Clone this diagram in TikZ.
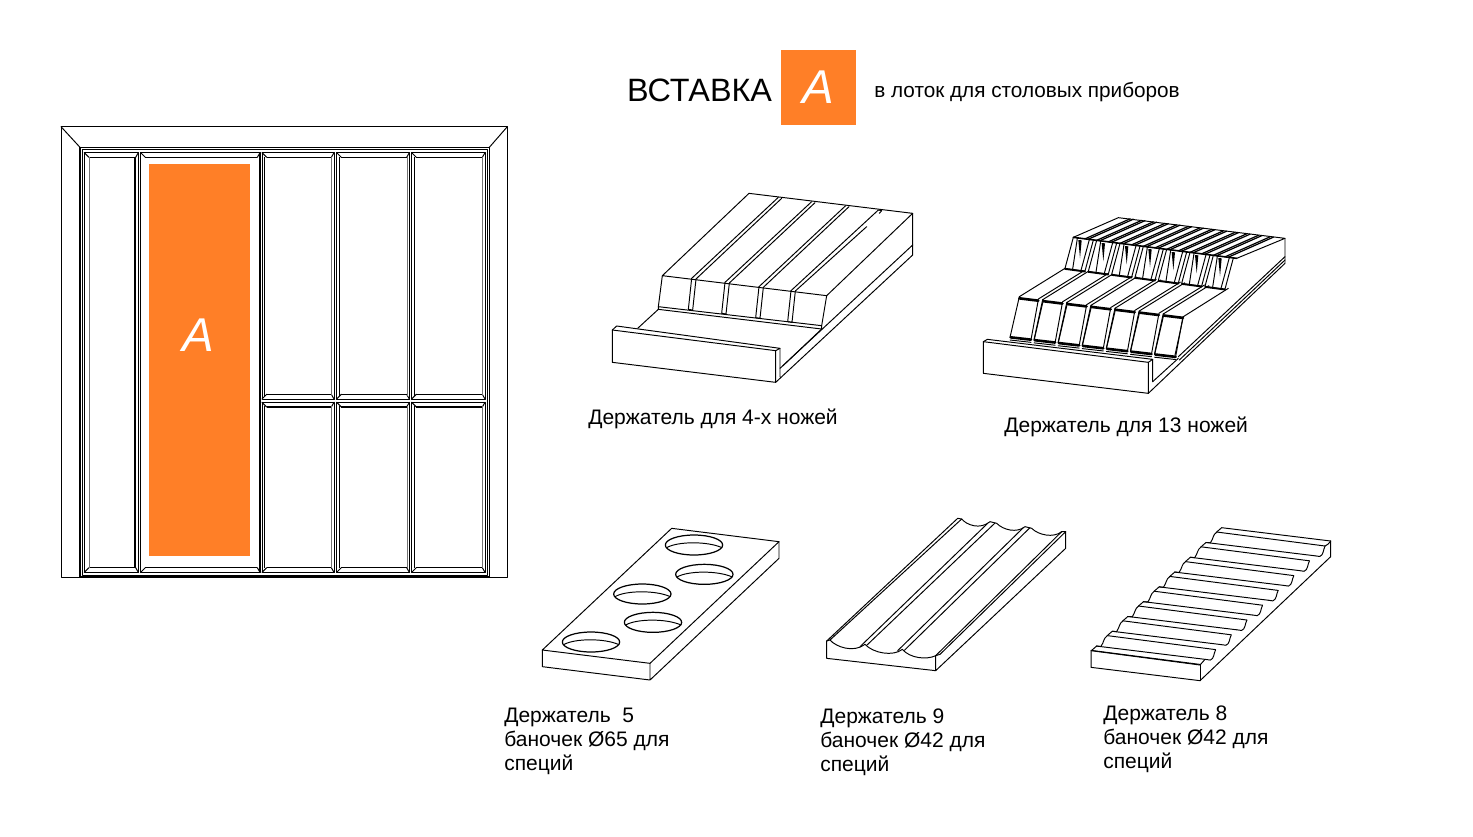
\documentclass[tikz,border=0pt]{standalone}
\usepackage{fontspec}
\setmainfont{Liberation Sans}
\definecolor{insertorange}{RGB}{255,127,39}
\tikzset{
	part/.style={line width=.55pt, line join=round, line cap=round, black},
	heavy/.style={line width=.9pt, black},
	faint/.style={line width=.45pt, black!55},
	caption/.style={inner sep=0pt, anchor=north west, align=left, font=\fontsize{11.95pt}{13.4pt}\selectfont},
}
\newcommand{\tile}[4]{
	\draw[part] (#1,#2) rectangle (#3,#4);
	\draw[heavy] (#1+14,#2+14) -- (#3-8,#2+14);
	\draw[heavy] (#1+14,#4-14) -- (#3-8,#4-14);
	\draw[part] (#1,#2) -- (#1+14,#2+14) (#3,#2) -- (#3-8,#2+14);
	\draw[part] (#1,#4) -- (#1+14,#4-14) (#3,#4) -- (#3-8,#4-14);
}
\begin{document}
\begin{tikzpicture}[x=.02cm, y=-.02cm]
	\useasboundingbox (0,0) rectangle (1473,836);
	% tray
	\begin{scope}[shift={(50,115)}, scale=1/3]
		\draw[part] (33,35) rectangle (1372,1388);
		\draw[heavy] (90,97) rectangle (1318,1385);
		\draw[part] (97,103) rectangle (1312,1380);
		\draw[part] (33,35) -- (90,97) (1372,35) -- (1318,97);
		\tile{103}{113}{265}{1372}
		\tile{272}{113}{630}{1372}
		\foreach \xa/\xb in {636/852,860/1078,1085/1305}
		{
			\tile{\xa}{113}{\xb}{852}
			\tile{\xa}{862}{\xb}{1372}
			\draw[heavy] (\xa+8,127) -- (\xa+8,842) (\xa+8,873) -- (\xa+8,1358);
			\draw[faint] (\xb-7,127) -- (\xb-7,842) (\xb-7,873) -- (\xb-7,1358);
		}
		\draw[heavy] (255,127) -- (255,1358) (630,113) -- (630,1372);
		\draw[faint] (118,127) -- (118,1358);
		\fill[insertorange] (297,147) rectangle (600,1322);
		\node[text=white, inner sep=0pt, font=\fontsize{27pt}{27pt}\selectfont\itshape] (traylabel) at (446,662) {A};
	\end{scope}
	% title
	\node[inner sep=0pt, font=\fontsize{18.4pt}{18pt}\selectfont] (title) at (699.5,90) {ВСТАВКА};
	\node[fill=insertorange, minimum width=.02cm*75, minimum height=.02cm*75, inner sep=0pt, text=white, font=\fontsize{27pt}{27pt}\selectfont\itshape] (titlebox) at (818.5,87.5) {A};
	\node[inner sep=0pt, anchor=west, font=\fontsize{11.8pt}{13pt}\selectfont] (subtitle) at (874,92) {в лоток для столовых приборов};
	% holder for 4 knives
	\begin{scope}[shift={(600,180)}, scale=1/3, part]
		\draw (37,450) -- (527,512) -- (527,607) -- (37,547) -- cycle;
		\draw (37,450) -- (50,438) -- (540,505) -- (527,512);
		\draw (540,505) -- (540,590) (527,607) -- (938,225) -- (938,100);
		\draw (540,565) -- (938,195);
		\draw (113,445) -- (175,388) (548,558) -- (665,447);
		\draw (187,287) -- (447,40) -- (938,100) -- (680,347) -- (187,287);
		\draw (187,287) -- (175,380) -- (665,437) -- (680,347);
		\draw (175,380) -- (175,388) -- (665,447) -- (665,437);
		\foreach \xa/\ya/\xt/\yt in {275/295/535/52,375/307/635/65,477/320/737/77}
		{
			\draw (\xa,\ya) -- (\xt,\yt);
			\draw (\xa+13,\ya+2) -- (\xt+10,\yt+3);
			\draw (\xa,\ya) -- (\xa-10,\ya+93) -- (\xa+3,\ya+95) -- (\xa+13,\ya+2);
		}
		\draw (573,332) -- (835,90) (586,333) -- (800,140) (835,90) -- (845,92) -- (838,100);
		\draw (573,332) -- (563,425) -- (576,427) -- (586,333);
	\end{scope}
	% holder for 13 knives
	\begin{scope}[shift={(970,205)}, scale=1/3, part]
		\draw (40,410) -- (535,472) -- (535,565) -- (40,505) -- cycle;
		\draw (40,410) -- (52,403) -- (548,463) -- (535,472);
		\draw (548,463) -- (548,530) (535,565) -- (945,175) -- (945,100);
		\draw (548,530) -- (625,460) (625,455) -- (945,155) (628,465) -- (945,165);
		\draw (310,97) -- (445,38) -- (945,100) -- (800,160);
		\draw[heavy] (310,97) -- (800,160);
		\foreach \k in {1,2,...,13}
		{
			\draw[line width=.7pt] ({310+35*\k},{97+4.5*\k}) -- +(135,-60);
			\draw[line width=.7pt] ({320+35*\k},{98+4.5*\k}) -- +(135,-60);
		}
		\foreach \i in {0,1,...,6}
		{
			\draw ({310+70*\i},{97+9*\i}) -- ({285+70*\i},{190+9*\i}) -- ({345+70*\i},{198+9*\i}) -- ({370+70*\i},{105+9*\i});
			\draw ({322+70*\i},{100+9*\i}) -- ({308+70*\i},{192+9*\i});
			\draw ({358+70*\i},{104+9*\i}) -- ({333+70*\i},{196+9*\i});
			\fill ({325+70*\i},{105+9*\i}) -- ({335+70*\i},{106+9*\i}) -- ({330+70*\i},{160+9*\i}) -- cycle;
			\draw[heavy] ({285+70*\i},{192+9*\i}) -- ({345+70*\i},{200+9*\i});
		}
		\draw (148,275) -- (285,190) (640,335) -- (775,250) (615,450) -- (640,335);
		\foreach \i in {0,1,...,6}
		{
			\draw ({148+72.3*\i},{275+8.6*\i}) -- ({120+72.3*\i},{397+8.6*\i}) -- ({183+72.3*\i},{404+8.6*\i}) -- ({205+72.3*\i},{284+8.6*\i});
			\draw[line width=1.5pt] ({148+72.3*\i},{280+8.6*\i}) -- ({205+72.3*\i},{287+8.6*\i});
			\draw[line width=1.5pt] ({122+72.3*\i},{397+8.6*\i}) -- ({183+72.3*\i},{404+8.6*\i});
			\draw ({120+72.3*\i},{405+8.6*\i}) -- ({183+72.3*\i},{412+8.6*\i});
		}
		\foreach \i in {0,1,...,5}
		{
			\draw ({205+72.3*\i},{282+8.6*\i}) -- +(137,-85);
			\draw ({218+72.3*\i},{284+8.6*\i}) -- +(137,-85);
			\draw ({218+72.3*\i},{284+8.6*\i}) -- ({192+72.3*\i},{404+8.6*\i});
		}
	\end{scope}
	% holder for 5 jars
	\begin{scope}[shift={(530,515)}, scale=1/3, part]
		\draw (37,405) -- (425,40) -- (747,80) -- (360,445) -- cycle;
		\draw (37,405) -- (37,455) -- (360,495) -- (747,130) -- (747,80) (360,445) -- (360,495);
		\foreach \cx/\cy in {492/90,523/178,337/237,369/322,183/381}
		{
			\draw[line width=.7pt] (\cx,\cy) ellipse (86 and 30);
			\draw (\cx-82,\cy+8) .. controls (\cx-50,\cy-11) and (\cx+40,\cy-12) .. (\cx+84,\cy+8);
		}
	\end{scope}
	% holder for 9 jars
	\begin{scope}[shift={(815,505)}, scale=1/3, part]
		\draw (35,408) -- (35,460) -- (362,497) -- (752,130) -- (752,80) (362,452) -- (362,497);
		\draw (35,408) -- (45,405) .. controls (62,425) and (115,445) .. (150,418)
			.. controls (175,445) and (235,455) .. (262,433)
			.. controls (285,460) and (335,465) .. (362,452) -- (375,448);
		\draw (428,40) -- (440,42) .. controls (455,60) and (495,75) .. (525,50) -- (545,55)
			.. controls (565,75) and (605,85) .. (630,65) -- (650,70)
			.. controls (670,90) and (715,100) .. (740,80) -- (752,80);
		\draw (35,408) -- (428,40) (45,405) -- (440,42);
		\draw (135,425) -- (518,55) (155,421) -- (540,54);
		\draw (248,437) -- (625,68) (268,436) -- (645,68);
		\draw (362,452) -- (740,80) (375,448) -- (752,80);
	\end{scope}
	% holder for 8 jars
	\begin{scope}[shift={(1080,515)}, scale=1/3, part]
		\draw (33,407) -- (33,457) -- (360,497) -- (752,125) -- (752,78);
		\draw (360,450) -- (360,497);
		\foreach \i in {0,1,...,8}
		{
			\draw ({425-46.9*\i},{38+44.4*\i}) -- ({752-46.9*\i},{78+44.4*\i});
			\draw ({410-46.9*\i},{51+44.4*\i}) -- ({735-46.9*\i},{93+44.4*\i});
			\draw ({425-46.9*\i},{38+44.4*\i}) -- ({410-46.9*\i},{51+44.4*\i});
		}
		\foreach \i in {1,2,...,8}
		{
			% left step of the ridge, then right step
			\draw ({425-46.9*\i},{38+44.4*\i}) -- ({438-46.9*\i},{39+44.4*\i})
				.. controls ({448-46.9*\i},{25+44.4*\i}) and ({445-46.9*\i},{15+44.4*\i}) .. ({457-46.9*\i},{7+44.4*\i});
			\draw ({752-46.9*\i},{78+44.4*\i}) -- ({766-46.9*\i},{80+44.4*\i})
				.. controls ({778-46.9*\i},{76+44.4*\i}) and ({776-46.9*\i},{60+44.4*\i}) .. ({782-46.9*\i},{49+44.4*\i});
		}
		\draw (33,407) -- (360,450);
		\draw (360,450) -- (375,433);
		\draw (735,93) .. controls (742,90) and (748,85) .. (752,78);
	\end{scope}
	% captions
	\node[caption] (knivesfour) at (588,409) {Держатель для 4-х ножей};
	\node[caption] (knivesthirteen) at (1004,417) {Держатель для 13 ножей};
	\node[caption] (jarsfive) at (504,708) {Держатель\ \ 5\\[.3pt]баночек Ø65 для\\[.3pt]специй};
	\node[caption] (jarsnine) at (820,708) {Держатель 9\\[.3pt]баночек Ø42 для\\[.3pt]специй};
	\node[caption] (jarseight) at (1103,705) {Держатель 8\\[.3pt]баночек Ø42 для\\[.3pt]специй};
\end{tikzpicture}
\end{document}
